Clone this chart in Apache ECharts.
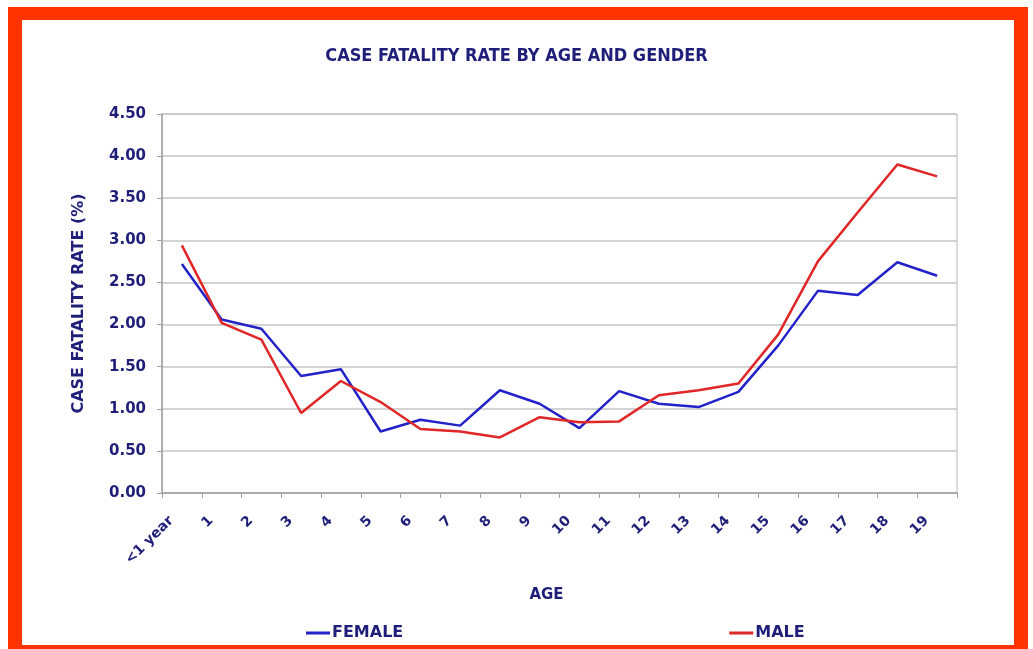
<!DOCTYPE html>
<html>
<head>
<meta charset="utf-8">
<script src="https://cdn.jsdelivr.net/npm/echarts@6/dist/echarts.min.js"></script>
<style>
html,body{margin:0;padding:0;background:#fff;overflow:hidden;width:1033px;height:649px;}
#frame{position:absolute;left:8px;top:7px;width:1020px;height:652px;box-sizing:border-box;border-style:solid;border-color:#ff3300;border-width:13px 14px 14px 14px;}
#chart{position:absolute;left:0;top:0;width:1033px;height:649px;}
</style>
</head>
<body>
<div id="frame"></div>
<div id="chart"></div>
<script>
const categories = ['<1 year','1','2','3','4','5','6','7','8','9','10','11','12','13','14','15','16','17','18','19'];
const female = [2.72, 2.06, 1.95, 1.39, 1.47, 0.73, 0.87, 0.80, 1.22, 1.06, 0.77, 1.21, 1.06, 1.02, 1.20, 1.75, 2.40, 2.35, 2.74, 2.58];
const male = [2.94, 2.02, 1.82, 0.95, 1.33, 1.08, 0.76, 0.73, 0.66, 0.90, 0.84, 0.85, 1.16, 1.22, 1.30, 1.88, 2.75, 3.33, 3.90, 3.76];
const seriesNames = ['FEMALE', 'MALE'];
const titleText = 'CASE FATALITY RATE BY AGE AND GENDER';
const yName = 'CASE FATALITY RATE (%)';
const xName = 'AGE';

const navy = '#1f1f7a';
const chart = echarts.init(document.getElementById('chart'));
chart.setOption({
  animation: false,
  title: {
    text: titleText, left: 'center', top: 42,
    textStyle: {fontFamily: 'DejaVu Sans Condensed', fontWeight: 'bold', fontSize: 18, color: navy}
  },
  grid: {left: 162, right: 76, top: 114, bottom: 156, show: true, borderColor: '#b8b8b8', borderWidth: 1, backgroundColor: 'transparent'},
  legend: {
    top: 625, left: 306, padding: 0, itemGap: 326, itemWidth: 24, itemHeight: 3, icon: 'rect',
    textStyle: {fontFamily: 'DejaVu Sans', fontWeight: 'bold', fontSize: 16, color: navy, padding: [0,0,0,-3]},
    data: seriesNames
  },
  xAxis: {
    type: 'category', data: categories, boundaryGap: true,
    name: xName, nameLocation: 'middle', nameGap: 95,
    nameTextStyle: {fontFamily: 'DejaVu Sans', fontWeight: 'bold', fontSize: 15, color: navy, padding: [0, 26, 0, 0]},
    axisLine: {lineStyle: {color: '#a0a0a0', width: 1.5}},
    axisTick: {show: true, length: 5, lineStyle: {color: '#a0a0a0'}},
    axisLabel: {rotate: 45, margin: 15, padding: [0, 15, 0, 0], fontFamily: 'DejaVu Sans', fontWeight: 'bold', fontSize: 14, color: navy, interval: 0}
  },
  yAxis: {
    type: 'value', min: 0, max: 4.5, interval: 0.5,
    name: yName, nameLocation: 'middle', nameGap: 75,
    nameTextStyle: {fontFamily: 'DejaVu Sans', fontWeight: 'bold', fontSize: 16, color: navy},
    axisLine: {show: true, lineStyle: {color: '#a0a0a0', width: 1.5}},
    axisTick: {show: true, length: 5, lineStyle: {color: '#a0a0a0'}},
    axisLabel: {margin: 16, fontFamily: 'DejaVu Sans', fontWeight: 'bold', fontSize: 15, color: navy, formatter: v => v.toFixed(2)},
    splitLine: {lineStyle: {color: '#c4c4c4', width: 1.5}}
  },
  series: [
    {name: seriesNames[0], type: 'line', data: female, showSymbol: false, symbol: 'none', itemStyle: {color: '#2222c8'}, lineStyle: {color: '#2222c8', width: 2.5}},
    {name: seriesNames[1], type: 'line', data: male, showSymbol: false, symbol: 'none', itemStyle: {color: '#e02626'}, lineStyle: {color: '#e02626', width: 2.5}}
  ]
});
</script>
</body>
</html>
